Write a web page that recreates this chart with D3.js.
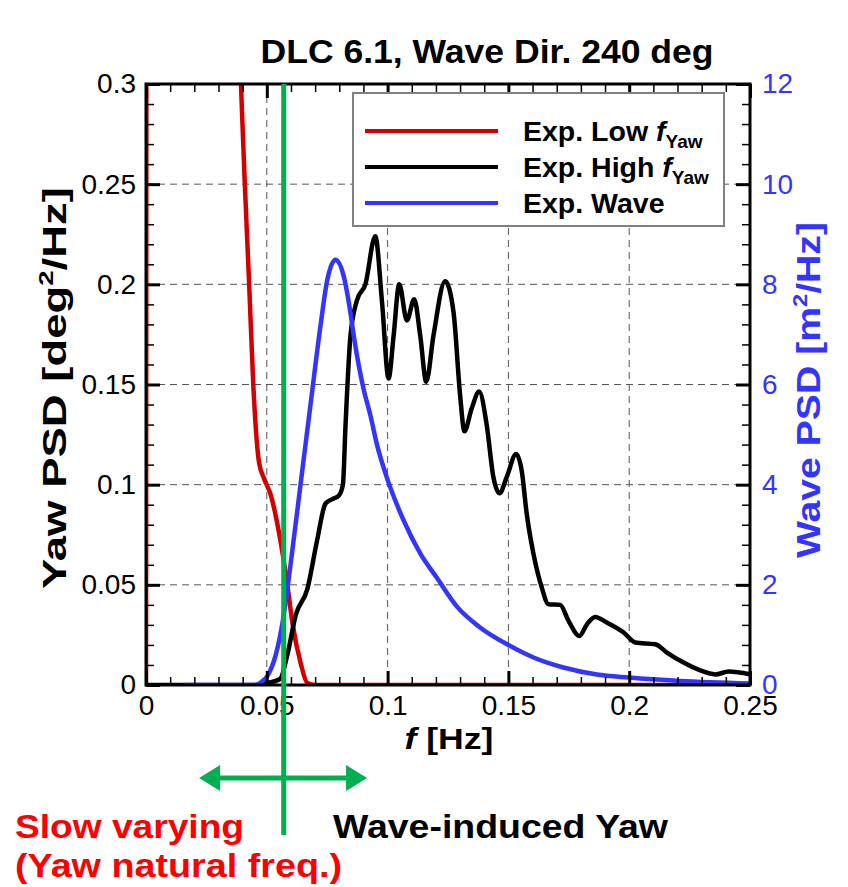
<!DOCTYPE html>
<html>
<head>
<meta charset="utf-8">
<script src="https://cdn.jsdelivr.net/npm/d3@7"></script>
<style>
body { margin: 0; background: #fff; }
svg text { font-family: "Liberation Sans", Arial, sans-serif; white-space: pre; }
</style>
</head>
<body>
<svg id="chart" width="848" height="887"></svg>
<script>
// Values, [f (Hz), PSD]
var lowYaw = [[0, 0], [0.0008, 1.5], [0.02, 0.9], [0.0393, 0.30], [0.0409, 0.25], [0.0427, 0.2],
  [0.0444, 0.15], [0.0468, 0.111], [0.0489, 0.103], [0.0516, 0.095], [0.0558, 0.071],
  [0.0585, 0.05], [0.0606, 0.031], [0.064, 0.011], [0.0668, 0.001], [0.07, 0], [0.25, 0]];

var highYaw = [[0, 0], [0.045, 0], [0.05, 0.001], [0.0555, 0.003], [0.0585, 0.015], [0.062, 0.035],
  [0.0668, 0.048], [0.0709, 0.0727], [0.0743, 0.0906], [0.0775, 0.093], [0.0798, 0.0945],
  [0.0815, 0.1], [0.0826, 0.13], [0.0846, 0.174], [0.0873, 0.192], [0.0908, 0.2], [0.0949, 0.224],
  [0.0977, 0.191], [0.1004, 0.153], [0.1025, 0.1745], [0.1048, 0.2], [0.108, 0.182], [0.111, 0.1926],
  [0.1135, 0.1745], [0.116, 0.1514], [0.119, 0.1745], [0.1238, 0.2016], [0.1273, 0.186], [0.130, 0.1448],
  [0.1318, 0.1267], [0.1348, 0.138], [0.1379, 0.1465], [0.141, 0.13], [0.1438, 0.1037], [0.1463, 0.0957],
  [0.1493, 0.1037], [0.1532, 0.1153], [0.1555, 0.107], [0.1576, 0.0853], [0.1604, 0.0653], [0.1638, 0.0487],
  [0.1666, 0.0403], [0.1714, 0.04], [0.1749, 0.032], [0.1794, 0.0245], [0.1825, 0.0303], [0.1859, 0.034],
  [0.1907, 0.0312], [0.1977, 0.0262], [0.2025, 0.0212], [0.2108, 0.0203], [0.2156, 0.0162], [0.2225, 0.0112],
  [0.2294, 0.0073], [0.2356, 0.0053], [0.2412, 0.0067], [0.25, 0.0053]];

// wave PSD in m^2/Hz (right axis)
var wave = [[0.0157, 0], [0.045, 0], [0.0475, 0.05], [0.0505, 0.2], [0.0537, 0.6], [0.0565, 1.24],
  [0.0599, 2.43], [0.064, 4.02], [0.0681, 5.6], [0.0723, 7.2], [0.075, 8.08], [0.0784, 8.49],
  [0.0818, 8.17], [0.0846, 7.44], [0.086, 6.97], [0.0901, 5.9], [0.0928, 5.4], [0.0956, 4.8],
  [0.0997, 4.14], [0.1066, 3.29], [0.1135, 2.63], [0.1204, 2.14], [0.1288, 1.56], [0.138, 1.16],
  [0.15, 0.8], [0.1604, 0.55], [0.1728, 0.35], [0.1866, 0.21], [0.2, 0.148], [0.2211, 0.08], [0.25, 0.03]];

var xTicks = [0, 0.05, 0.1, 0.15, 0.2, 0.25];
var xTickLabels = ["0", "0.05", "0.1", "0.15", "0.2", "0.25"];
var yTicks = [0, 0.05, 0.1, 0.15, 0.2, 0.25, 0.3];
var yTickLabels = ["0", "0.05", "0.1", "0.15", "0.2", "0.25", "0.3"];
var waveTicks = [0, 2, 4, 6, 8, 10, 12];
var seriesNames = ["Exp. Low ", "Exp. High ", "Exp. Wave"];
var seriesColors = ["#d40000", "#000000", "#3434ff"];
var natFreq = 0.057;

var pl = 146, pr = 750, pt = 84, pb = 685;

var svg = d3.select("#chart");
var x = d3.scaleLinear().domain([0, 0.25]).range([pl, pr]);
var y = d3.scaleLinear().domain([0, 0.3]).range([pb, pt]);
var y2 = d3.scaleLinear().domain([0, 12]).range([pb, pt]);

// dashed grid
var grid = svg.append("g").attr("stroke", "#555").attr("stroke-width", 1).attr("stroke-dasharray", "7,5");
grid.selectAll(".gx").data(xTicks.slice(1, -1)).enter().append("line")
    .attr("x1", function(d) { return x(d); }).attr("x2", function(d) { return x(d); })
    .attr("y1", pt).attr("y2", pb);
grid.selectAll(".gy").data(yTicks.slice(1, -1)).enter().append("line")
    .attr("x1", pl).attr("x2", pr)
    .attr("y1", function(d) { return y(d); }).attr("y2", function(d) { return y(d); });

// curves
svg.append("clipPath").attr("id", "plot-clip")
    .append("rect").attr("x", pl).attr("y", pt).attr("width", pr - pl).attr("height", pb - pt);

var yawLine = d3.line().x(function(d) { return x(d[0]); }).y(function(d) { return y(d[1]); }).curve(d3.curveMonotoneX);
var waveLine = d3.line().x(function(d) { return x(d[0]); }).y(function(d) { return y2(d[1]); }).curve(d3.curveMonotoneX);

var curves = svg.append("g").attr("clip-path", "url(#plot-clip)").attr("fill", "none")
    .attr("stroke-width", 4.5).attr("stroke-linejoin", "round");
curves.append("path").attr("d", yawLine(lowYaw)).attr("stroke", seriesColors[0]);
curves.append("path").attr("d", yawLine(highYaw)).attr("stroke", seriesColors[1]);
curves.append("path").attr("d", waveLine(wave)).attr("stroke", seriesColors[2]);

// axes, ticks pointing inward
var minor = d3.range(1, 25).filter(function(i) { return i % 5 != 0; }).map(function(i) { return i / 100; });
var minorY = d3.range(1, 30).filter(function(i) { return i % 5 != 0; }).map(function(i) { return i / 100; });

function styleAxis(g, w) {
  g.select(".domain").remove();
  g.selectAll("line").attr("stroke", "#000").attr("stroke-width", w);
  g.attr("font-size", 28).attr("font-family", "Liberation Sans, Arial, sans-serif");
}

svg.append("g").attr("transform", "translate(0," + pb + ")")
    .call(d3.axisBottom(x).tickValues(xTicks).tickSize(-14).tickPadding(10)
      .tickFormat(function(d, i) { return xTickLabels[i]; }))
    .call(styleAxis, 3);
svg.append("g").attr("transform", "translate(0," + pb + ")")
    .call(d3.axisBottom(x).tickValues(minor).tickSize(-8).tickFormat(""))
    .call(styleAxis, 1.5);
svg.append("g").attr("transform", "translate(0," + pt + ")")
    .call(d3.axisTop(x).tickValues(xTicks).tickSize(-14).tickFormat(""))
    .call(styleAxis, 3);
svg.append("g").attr("transform", "translate(0," + pt + ")")
    .call(d3.axisTop(x).tickValues(minor).tickSize(-8).tickFormat(""))
    .call(styleAxis, 1.5);

svg.append("g").attr("transform", "translate(" + pl + ",0)")
    .call(d3.axisLeft(y).tickValues(yTicks).tickSize(-14).tickPadding(10)
      .tickFormat(function(d, i) { return yTickLabels[i]; }))
    .call(styleAxis, 3);
svg.append("g").attr("transform", "translate(" + pl + ",0)")
    .call(d3.axisLeft(y).tickValues(minorY).tickSize(-8).tickFormat(""))
    .call(styleAxis, 1.5);

var rightAxis = svg.append("g").attr("transform", "translate(" + pr + ",0)")
    .call(d3.axisRight(y2).tickValues(waveTicks).tickSize(-14).tickPadding(12))
    .call(styleAxis, 3);
rightAxis.selectAll("text").attr("fill", seriesColors[2]);
svg.append("g").attr("transform", "translate(" + pr + ",0)")
    .call(d3.axisRight(y2).tickValues(minorY.map(function(v) { return v * 40; })).tickSize(-8).tickFormat(""))
    .call(styleAxis, 1.5);

svg.append("rect").attr("x", pl).attr("y", pt).attr("width", pr - pl).attr("height", pb - pt)
    .attr("fill", "none").attr("stroke", "#000").attr("stroke-width", 3);

// title and axis titles
svg.append("text").attr("x", 487).attr("y", 63).attr("text-anchor", "middle")
    .attr("font-size", 33).attr("font-weight", "bold").attr("textLength", 453).attr("lengthAdjust", "spacingAndGlyphs")
    .text("DLC 6.1, Wave Dir. 240 deg");

var xt = svg.append("text").attr("x", 449).attr("y", 749).attr("text-anchor", "middle")
    .attr("font-size", 29).attr("font-weight", "bold").attr("textLength", 89).attr("lengthAdjust", "spacingAndGlyphs");
xt.append("tspan").attr("font-style", "italic").text("f");
xt.append("tspan").text(" [Hz]");

var lt = svg.append("text").attr("transform", "translate(66,388) rotate(-90)").attr("text-anchor", "middle")
    .attr("font-size", 33).attr("font-weight", "bold").attr("textLength", 402).attr("lengthAdjust", "spacingAndGlyphs");
lt.append("tspan").text("Yaw PSD [deg");
lt.append("tspan").attr("font-size", 20).attr("dy", -13).text("2");
lt.append("tspan").attr("dy", 13).text("/Hz]");

var rt = svg.append("text").attr("transform", "translate(820,390) rotate(-90)").attr("text-anchor", "middle")
    .attr("font-size", 33).attr("font-weight", "bold").attr("fill", seriesColors[2])
    .attr("textLength", 336).attr("lengthAdjust", "spacingAndGlyphs");
rt.append("tspan").text("Wave PSD [m");
rt.append("tspan").attr("font-size", 20).attr("dy", -13).text("2");
rt.append("tspan").attr("dy", 13).text("/Hz]");

// legend
var legend = svg.append("g");
legend.append("rect").attr("x", 353).attr("y", 93).attr("width", 371).attr("height", 133)
    .attr("fill", "#fff").attr("stroke", "#808080").attr("stroke-width", 2);
var rows = legend.selectAll(".row").data(seriesNames).enter().append("g")
    .attr("transform", function(d, i) { return "translate(0," + (131 + i * 36) + ")"; });
rows.append("line").attr("x1", 365).attr("x2", 498)
    .attr("stroke", function(d, i) { return seriesColors[i]; }).attr("stroke-width", 4);
rows.each(function(d, i) {
  var t = d3.select(this).append("text").attr("x", 523).attr("y", 10)
      .attr("font-size", 28.5).attr("font-weight", "bold");
  t.append("tspan").text(d);
  if (i < 2) {
    t.append("tspan").attr("font-style", "italic").text("f");
    t.append("tspan").attr("font-size", 19).attr("dy", 7).text("Yaw");
  }
});

// natural frequency marker and annotation
var green = "#00b050";
svg.append("line").attr("x1", x(natFreq)).attr("x2", x(natFreq)).attr("y1", pt).attr("y2", 835)
    .attr("stroke", green).attr("stroke-width", 5);
var ay = 778, ax1 = x(0.022), ax2 = x(0.0915);
svg.append("line").attr("x1", ax1 + 15).attr("x2", ax2 - 15).attr("y1", ay).attr("y2", ay)
    .attr("stroke", green).attr("stroke-width", 5);
svg.append("path").attr("fill", green)
    .attr("d", "M" + ax1 + "," + ay + "l21,-13v26z M" + ax2 + "," + ay + "l-21,-13v26z");

svg.append("text").attr("x", 15).attr("y", 838).attr("fill", "#ff0000")
    .attr("font-family", "Noto Sans CJK KR").attr("font-size", 33).attr("font-weight", "bold")
    .attr("textLength", 229).attr("lengthAdjust", "spacingAndGlyphs").text("Slow varying");
svg.append("text").attr("x", 15).attr("y", 877).attr("fill", "#ff0000")
    .attr("font-family", "Noto Sans CJK KR").attr("font-size", 33).attr("font-weight", "bold")
    .attr("textLength", 327).attr("lengthAdjust", "spacingAndGlyphs").text("(Yaw natural freq.)");
svg.append("text").attr("x", 333).attr("y", 838).attr("fill", "#000")
    .attr("font-family", "Noto Sans CJK KR").attr("font-size", 33).attr("font-weight", "bold")
    .attr("textLength", 335).attr("lengthAdjust", "spacingAndGlyphs").text("Wave-induced Yaw");
</script>
</body>
</html>
